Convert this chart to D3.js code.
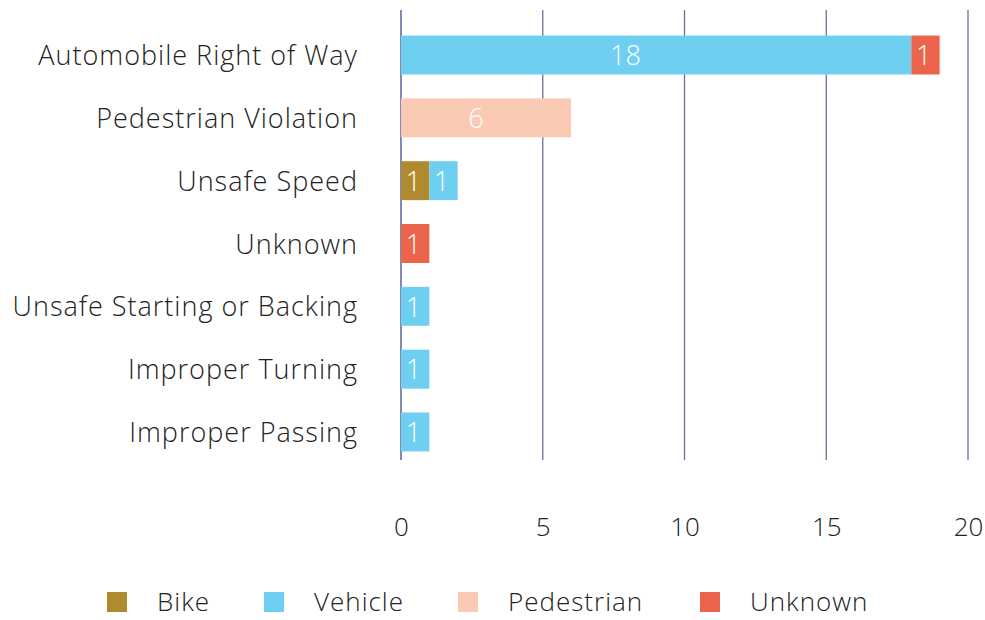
<!DOCTYPE html>
<html><head><meta charset="utf-8">
<script src="https://cdn.jsdelivr.net/npm/d3@7"></script>
<style>body{margin:0;background:#fff;} text{font-family:"Open Sans",Lato,sans-serif;font-weight:300;}</style>
</head><body><svg id="c" width="985" height="620"></svg>
<script>
const categories = ["Automobile Right of Way","Pedestrian Violation","Unsafe Speed","Unknown","Unsafe Starting or Backing","Improper Turning","Improper Passing"];
const seriesNames = ["Bike","Vehicle","Pedestrian","Unknown"];
const bike =       [0,0,1,0,0,0,0];
const vehicle =    [18,0,1,0,1,1,1];
const pedestrian = [0,6,0,0,0,0,0];
const unknown =    [1,0,0,1,0,0,0];
const xTicks = [0,5,10,15,20];
const colors = ["#b08a2e","#6fcff0","#fbcab4","#ec644b"];

const svg = d3.select("#c");
const rows = categories.map((c,i)=>({cat:c,Bike:bike[i],Vehicle:vehicle[i],Pedestrian:pedestrian[i],Unknown:unknown[i]}));
const stack = d3.stack().keys(seriesNames)(rows);

const x = d3.scaleLinear().domain([0,20]).range([401,968]);
const y = d3.scaleBand().domain(categories).range([23.6,463.4]).paddingInner(0.38).paddingOuter(0.19);
const color = d3.scaleOrdinal().domain(seriesNames).range(colors);

// grid lines
svg.append("g").selectAll("line").data(xTicks).join("line")
  .attr("x1",d=>x(d)).attr("x2",d=>x(d)).attr("y1",10).attr("y2",460)
  .attr("stroke",d=>d===0?"#3f4c8a":"#6672a6").attr("stroke-width",1.3);

// bars
const g = svg.append("g");
stack.forEach(s=>{
  const key = s.key;
  const segs = s.filter(d=>d[1]-d[0]>0);
  const sel = g.append("g");
  sel.selectAll("rect").data(segs).join("rect")
    .attr("x",d=>x(d[0])).attr("width",d=>x(d[1])-x(d[0]))
    .attr("y",d=>y(d.data.cat)).attr("height",y.bandwidth())
    .attr("fill",color(key));
  sel.selectAll("text").data(segs).join("text")
    .attr("x",d=>x(d[0])+0.44*(x(d[1])-x(d[0]))).attr("y",d=>y(d.data.cat)+y.bandwidth()/2)
    .attr("dy","0.38em").attr("text-anchor","middle").attr("fill","#fff")
    .attr("font-size",27).attr("font-weight",400).text(d=>d[1]-d[0]);
});

// category labels
const yAxis = d3.axisLeft(y).tickSize(0).tickPadding(0);
const ya = svg.append("g").attr("transform","translate(358,0)").call(yAxis);
ya.select(".domain").remove();
ya.selectAll("text").attr("font-size",27).attr("letter-spacing",1).attr("fill","#222").attr("font-family",null).attr("dy","0.37em");

// x tick labels
const xAxis = d3.axisBottom(x).tickValues(xTicks).tickSize(0).tickPadding(0);
const xa = svg.append("g").attr("transform","translate(0,536)").call(xAxis);
xa.select(".domain").remove();
xa.selectAll("text").attr("font-size",26).attr("fill","#222").attr("font-family",null).attr("dy",0);

// legend
const legX = [107,264,458,700];
const leg = svg.append("g").selectAll("g").data(seriesNames).join("g")
  .attr("transform",(d,i)=>`translate(${legX[i]},592)`);
leg.append("rect").attr("width",20).attr("height",20).attr("fill",d=>color(d));
leg.append("text").attr("x",50).attr("y",10).attr("dy","0.36em").attr("font-size",26).attr("letter-spacing",1).attr("fill","#222").text(d=>d);
</script></body></html>
